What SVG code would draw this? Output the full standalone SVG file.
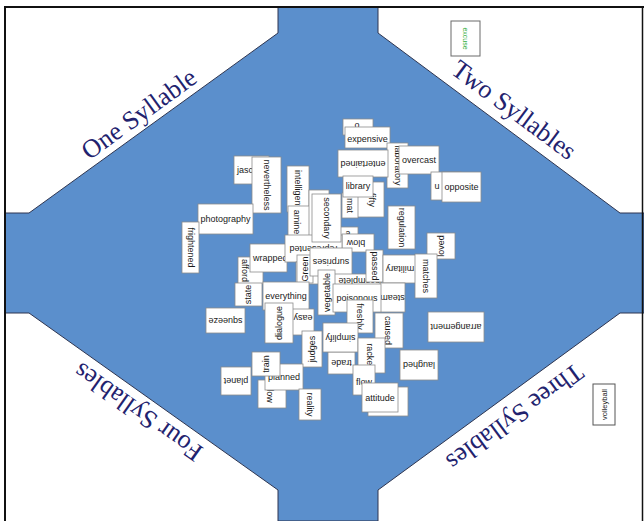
<svg xmlns="http://www.w3.org/2000/svg" width="644" height="521" viewBox="0 0 644 521">
<style>
.c{fill:#fff;stroke:#8c8c8c;stroke-width:0.8}
.t{font-family:"Liberation Sans",Arial,sans-serif;font-size:9px;fill:#1a1a1a;text-anchor:middle;dominant-baseline:central}
.lab{font-family:"Liberation Serif","Times New Roman",serif;font-size:26px;fill:#22226e;text-anchor:middle;dominant-baseline:central}
</style>
<rect x="0" y="0" width="644" height="521" fill="#fff"/>
<g id="board">
<polygon points="278,7 378,7 378,33 620,213 644,213 644,313 620,313 378,490 378,521 278,521 278,490 29,313 5,313 5,213 29,213 278,33" fill="#5b8fcc" stroke="#2e3550" stroke-width="1"/>
<path d="M5,521 V7 H644" fill="none" stroke="#111" stroke-width="2"/>
<line x1="642.5" y1="7" x2="642.5" y2="521" stroke="#111" stroke-width="1.5"/>
</g>
<g id="labels">
<text class="lab" x="139" y="114" transform="rotate(-35.9 139 114)">One Syllable</text>
<text class="lab" x="514" y="110" transform="rotate(36.6 514 110)">Two Syllables</text>
<text class="lab" x="515" y="417" transform="rotate(143.8 515 417)">Three Syllables</text>
<text class="lab" x="138" y="412" transform="rotate(-144.8 138 412)">Four Syllables</text>
</g>
<g id="connectors"></g>
<g id="cards">
<g id="card-excuse"><rect x="451" y="21" width="29" height="35" fill="#fff" stroke="#6a6a6a" stroke-width="1"/><text class="t" x="465.5" y="38.5" style="font-size:7px;fill:#2fae3a" transform="rotate(90 465.5 38.5)">excuse</text></g>
<g id="card-volleyball"><rect x="593" y="384" width="22" height="41" fill="#fff" stroke="#555" stroke-width="1"/><text class="t" x="604" y="404.5" style="font-size:7.5px" transform="rotate(-90 604 404.5)">volleyball</text></g>

<g id="card-o"><rect class="c" x="343" y="119" width="30" height="16"/><text class="t" x="357" y="125">o</text></g>
<g id="card-expensive"><rect class="c" x="345" y="127" width="45" height="21"/><text class="t" x="367.5" y="139">expensive</text></g>
<g id="card-laboratory"><rect class="c" x="387" y="143" width="21" height="45"/><text class="t" x="397.5" y="165.5" transform="rotate(90 397.5 165.5)">laboratory</text></g>
<g id="card-entertained"><rect class="c" x="338" y="150" width="50" height="27"/><text class="t" x="363" y="163.5" transform="rotate(180 363 163.5)">entertained</text></g>
<g id="card-overcast"><rect class="c" x="399" y="146" width="40" height="28"/><text class="t" x="419" y="160">overcast</text></g>
<g id="card-fifty"><rect class="c" x="352" y="182" width="32" height="35"/><text class="t" x="372" y="200" transform="rotate(90 372 200)">fifty</text></g>
<g id="card-mat"><rect class="c" x="342" y="193" width="16" height="25"/><text class="t" x="350" y="205.5" transform="rotate(90 350 205.5)">mat</text></g>
<g id="card-library"><rect class="c" x="343" y="176" width="30" height="21"/><text class="t" x="358" y="186">library</text></g>
<g id="card-u"><rect class="c" x="431" y="172" width="30" height="28"/><text class="t" x="437" y="186">u</text></g>
<g id="card-opposite"><rect class="c" x="442" y="172" width="39" height="30"/><text class="t" x="461.5" y="187">opposite</text></g>
<g id="card-regulation"><rect class="c" x="388" y="206" width="27" height="43"/><text class="t" x="401.5" y="227.5" transform="rotate(90 401.5 227.5)">regulation</text></g>
<g id="card-loved"><rect class="c" x="427" y="233" width="28" height="26"/><text class="t" x="441" y="246" transform="rotate(-90 441 246)">loved</text></g>

<g id="card-jasc"><rect class="c" x="234" y="156" width="35" height="28"/><text class="t" x="237" y="170" style="text-anchor:start">jasc</text></g>
<g id="card-nevertheless"><rect class="c" x="252" y="157" width="29" height="56"/><text class="t" x="266.5" y="185" transform="rotate(90 266.5 185)">nevertheless</text></g>
<g id="card-intelligent"><rect class="c" x="287" y="166" width="22" height="46"/><text class="t" x="298" y="189" transform="rotate(90 298 189)">intelligent</text></g>
<g id="card-photography"><rect class="c" x="198" y="204" width="55" height="30"/><text class="t" x="225.5" y="219">photography</text></g>
<g id="card-frightened"><rect class="c" x="182" y="222" width="17" height="51"/><text class="t" x="190.5" y="247.5" transform="rotate(90 190.5 247.5)">frightened</text></g>
<g id="card-amine"><rect class="c" x="288" y="206" width="24" height="40"/><text class="t" x="297" y="222" transform="rotate(90 297 222)">amine</text></g>
<g id="card-back1"><rect class="c" x="309" y="190" width="20" height="55"/></g>
<g id="card-a"><rect class="c" x="340" y="227" width="18" height="20"/><text class="t" x="348" y="233">a</text></g>
<g id="card-blow"><rect class="c" x="342" y="234" width="32" height="18"/><text class="t" x="356" y="243" transform="rotate(180 356 243)">blow</text></g>
<g id="card-afford"><rect class="c" x="238" y="257" width="25" height="27"/><text class="t" x="245" y="270.5" transform="rotate(90 245 270.5)">afford</text></g>
<g id="card-wrapped"><rect class="c" x="250" y="244" width="37" height="28"/><text class="t" x="253" y="258" style="text-anchor:start">wrapped</text></g>
<g id="card-represented"><rect class="c" x="285" y="235" width="57" height="27"/><text class="t" x="313.5" y="248.5" transform="rotate(180 313.5 248.5)">represented</text></g>
<g id="card-secondary"><rect class="c" x="312" y="194" width="29" height="48"/><text class="t" x="326.5" y="218" transform="rotate(90 326.5 218)">secondary</text></g>
<g id="card-state"><rect class="c" x="235" y="283" width="27" height="23"/><text class="t" x="248" y="294.5" transform="rotate(-90 248 294.5)">state</text></g>
<g id="card-back2"><rect class="c" x="296" y="262" width="25" height="22"/></g>
<g id="card-green"><rect class="c" x="297" y="255" width="16" height="28"/><text class="t" x="305" y="269" transform="rotate(-90 305 269)">Green</text></g>
<g id="card-surprises"><rect class="c" x="310" y="248" width="42" height="28"/><text class="t" x="331" y="262" transform="rotate(180 331 262)">surprises</text></g>
<g id="card-incomplete"><rect class="c" x="320" y="274" width="63" height="15"/><text class="t" x="382" y="281" style="text-anchor:start" transform="rotate(180 382 281)">incomplete</text></g>
<g id="card-passed"><rect class="c" x="366" y="250" width="17" height="32"/><text class="t" x="374.5" y="266" transform="rotate(90 374.5 266)">passed</text></g>
<g id="card-military"><rect class="c" x="383" y="255" width="34" height="28"/><text class="t" x="400" y="269" transform="rotate(180 400 269)">military</text></g>
<g id="card-matches"><rect class="c" x="415" y="254" width="22" height="44"/><text class="t" x="426" y="276" transform="rotate(90 426 276)">matches</text></g>
<g id="card-vegetable"><rect class="c" x="318" y="270" width="17" height="45"/><text class="t" x="326.5" y="292.5" transform="rotate(-90 326.5 292.5)">vegetable</text></g>
<g id="card-everything"><rect class="c" x="263" y="282" width="46" height="28"/><text class="t" x="286" y="296">everything</text></g>
<g id="card-steam"><rect class="c" x="380" y="283" width="25" height="29"/><text class="t" x="392.5" y="297.5" transform="rotate(180 392.5 297.5)">steam</text></g>
<g id="card-poisonous"><rect class="c" x="333" y="284" width="48" height="28"/><text class="t" x="357" y="298">poisonous</text></g>
<g id="card-squeeze"><rect class="c" x="206" y="308" width="39" height="25"/><text class="t" x="225.5" y="320.5" transform="rotate(180 225.5 320.5)">squeeze</text></g>
<g id="card-easy"><rect class="c" x="292" y="309" width="22" height="26"/><text class="t" x="303" y="318" transform="rotate(180 303 318)">easy</text></g>
<g id="card-dialogue"><rect class="c" x="265" y="303" width="28" height="40"/><text class="t" x="279" y="323" transform="rotate(-90 279 323)">dialogue</text></g>
<g id="card-freshly"><rect class="c" x="347" y="300" width="26" height="33"/><text class="t" x="360" y="316.5" transform="rotate(90 360 316.5)">freshly</text></g>
<g id="card-caused"><rect class="c" x="375" y="313" width="28" height="35"/><text class="t" x="388" y="330.5" transform="rotate(90 388 330.5)">caused</text></g>
<g id="card-arrangement"><rect class="c" x="428" y="312" width="56" height="30"/><text class="t" x="456" y="327" transform="rotate(180 456 327)">arrangement</text></g>
<g id="card-judges"><rect class="c" x="302" y="331" width="20" height="36"/><text class="t" x="312" y="349" transform="rotate(-90 312 349)">judges</text></g>
<g id="card-trade"><rect class="c" x="328" y="352" width="27" height="22"/><text class="t" x="341.5" y="363" transform="rotate(180 341.5 363)">trade</text></g>
<g id="card-simplify"><rect class="c" x="323" y="323" width="35" height="29"/><text class="t" x="340.5" y="337.5" transform="rotate(180 340.5 337.5)">simplify</text></g>
<g id="card-racket"><rect class="c" x="358" y="338" width="27" height="35"/><text class="t" x="370" y="355.5" transform="rotate(90 370 355.5)">racket</text></g>
<g id="card-laughed"><rect class="c" x="400" y="350" width="38" height="30"/><text class="t" x="419" y="365" transform="rotate(180 419 365)">laughed</text></g>
<g id="card-planet"><rect class="c" x="221" y="367" width="30" height="28"/><text class="t" x="236" y="381" transform="rotate(180 236 381)">planet</text></g>
<g id="card-low"><rect class="c" x="258" y="380" width="28" height="28"/><text class="t" x="270" y="396" transform="rotate(90 270 396)">low</text></g>
<g id="card-planned"><rect class="c" x="265" y="364" width="38" height="26"/><text class="t" x="284" y="377">planned</text></g>
<g id="card-train"><rect class="c" x="252" y="352" width="28" height="24"/><text class="t" x="266" y="364" transform="rotate(-90 266 364)">train</text></g>
<g id="card-reality"><rect class="c" x="299" y="389" width="22" height="31"/><text class="t" x="310" y="404.5" transform="rotate(90 310 404.5)">reality</text></g>
<g id="card-flow"><rect class="c" x="353" y="365" width="22" height="30"/><text class="t" x="364" y="382">flow</text></g>
<g id="card-back3"><rect class="c" x="368" y="387" width="40" height="29"/></g>
<g id="card-attitude"><rect class="c" x="362" y="383" width="36" height="29"/><text class="t" x="380" y="398">attitude</text></g>
</g>
</svg>
